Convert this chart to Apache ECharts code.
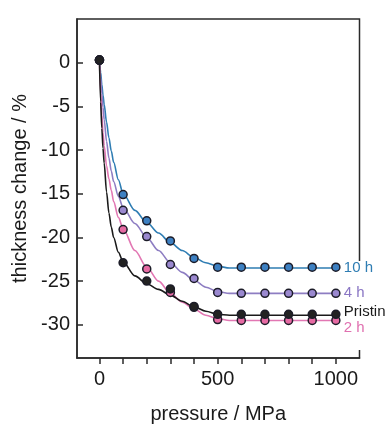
<!DOCTYPE html>
<html><head><meta charset="utf-8">
<script src="https://cdn.jsdelivr.net/npm/echarts@6/dist/echarts.min.js"></script>
<style>html,body{margin:0;padding:0;background:#fff}#c{width:385px;height:429px}</style>
</head><body><div id="c"></div>
<script>
// measured points
const pressure = [0, 100, 200, 300, 400, 500, 600, 700, 800, 900, 1000];
const h10 = [0.3, -15.1, -18.1, -20.4, -22.4, -23.4, -23.4, -23.4, -23.4, -23.4, -23.4];
const h4 = [0.3, -16.9, -19.9, -23.1, -24.7, -26.3, -26.4, -26.4, -26.4, -26.4, -26.4];
const h2 = [0.3, -19.1, -23.6, -26.3, -28.0, -29.4, -29.5, -29.5, -29.5, -29.5, -29.5];
const pristine = [0.3, -22.9, -25.0, -25.9, -27.9, -28.8, -28.8, -28.8, -28.8, -28.8, -28.8];
// fitted curves
const fitX = [0, 5, 10, 15, 20, 30, 40, 50, 60, 80, 100, 150, 200, 250, 300, 350, 400, 450, 500, 550, 600, 700, 800, 900, 1000];
const fit10 = [0.3, -1.1, -2.5, -3.7, -4.8, -6.8, -8.6, -10.1, -11.4, -13.4, -15.0, -16.9, -18.3, -19.5, -20.6, -21.5, -22.3, -22.9, -23.3, -23.5, -23.5, -23.5, -23.5, -23.5, -23.5];
const fit4 = [0.3, -1.7, -3.5, -5.1, -6.5, -9.0, -10.9, -12.4, -13.6, -15.3, -16.6, -18.4, -20.0, -21.5, -22.9, -24.0, -24.9, -25.7, -26.2, -26.4, -26.4, -26.4, -26.4, -26.4, -26.4];
const fit2 = [0.3, -3.5, -6.0, -8.0, -9.5, -11.8, -13.3, -14.6, -15.9, -17.7, -19.0, -21.5, -23.4, -25.0, -26.4, -27.4, -28.2, -28.9, -29.3, -29.5, -29.5, -29.5, -29.5, -29.5, -29.5];
const fitP = [0.3, -4.5, -7.5, -9.8, -11.5, -14.8, -17.2, -18.8, -20.0, -21.7, -22.8, -24.4, -25.3, -25.95, -26.6, -27.3, -27.95, -28.45, -28.8, -28.9, -28.9, -28.9, -28.9, -28.9, -28.9];
const seriesNames = ['10 h', '4 h', '2 h', 'Pristine'];
const xTicks = [0, 100, 200, 300, 400, 500, 600, 700, 800, 900, 1000];
const xLabels = [0, 500, 1000];
const yTicks = [0, -5, -10, -15, -20, -25, -30];

const FONT = 'Liberation Sans, Arial, sans-serif';
const defs = [
  {name: seriesNames[0], pts: h10, fit: fit10, line: '#2f7db3', fill: '#3d80c2', label: '#2f7db3', off: [0, 0]},
  {name: seriesNames[1], pts: h4, fit: fit4, line: '#8d7dc2', fill: '#9a88cf', label: '#8a76c4', off: [0, 0]},
  {name: seriesNames[2], pts: h2, fit: fit2, line: '#e277b3', fill: '#e66aa3', label: '#e070b0', off: [0, 7]},
  {name: seriesNames[3], pts: pristine, fit: fitP, line: '#1a1a1a', fill: '#222', label: '#1a1a1a', off: [0, -3]}
];
const series = [];
defs.forEach(d => {
  series.push({
    type: 'line', name: d.name + ' fit', data: fitX.map((x, i) => [x, d.fit[i]]),
    showSymbol: false, smooth: 0.3, smoothMonotone: 'x',
    lineStyle: {color: d.line, width: 1.6}, z: 2,
    endLabel: {show: true, formatter: d.name, color: d.label, fontSize: 15, fontFamily: FONT,
      distance: 8, offset: d.off}
  });
});
defs.forEach(d => {
  series.push({
    type: 'scatter', name: d.name, data: pressure.map((x, i) => [x, d.pts[i]]),
    symbolSize: 8, itemStyle: {color: d.fill, borderColor: '#1c1c28', borderWidth: 1.5, opacity: 1}, z: 3
  });
});

const chart = echarts.init(document.getElementById('c'), null, {renderer: 'canvas'});
chart.setOption({
  animation: false,
  backgroundColor: '#fff',
  grid: {left: 77, top: 19, width: 282.5, height: 349, show: true, borderColor: '#2a2a2a', borderWidth: 1.5, backgroundColor: 'transparent'},
  xAxis: {
    type: 'value', min: -95, max: 1100,
    name: 'pressure / MPa', nameLocation: 'middle', nameGap: 46,
    nameTextStyle: {fontSize: 20, color: '#1a1a1a', fontFamily: FONT},
    axisLine: {show: true, onZero: false, lineStyle: {color: '#2a2a2a', width: 1.5}},
    axisTick: {show: true, inside: false, length: 6, customValues: xTicks, lineStyle: {color: '#2a2a2a', width: 1.5}},
    axisLabel: {customValues: xLabels, fontSize: 20, color: '#1a1a1a', fontFamily: FONT, margin: 11, formatter: v => String(v)},
    splitLine: {show: false}
  },
  yAxis: {
    type: 'value', min: -33.8, max: 5,
    name: 'thickness change / %', nameLocation: 'middle', nameGap: 46, nameRotate: 90,
    nameTextStyle: {fontSize: 20, color: '#1a1a1a', fontFamily: FONT},
    axisLine: {show: true, onZero: false, lineStyle: {color: '#2a2a2a', width: 1.5}},
    axisTick: {show: true, inside: true, length: 6, customValues: yTicks, lineStyle: {color: '#2a2a2a', width: 1.5}},
    axisLabel: {customValues: yTicks, fontSize: 20, color: '#1a1a1a', fontFamily: FONT, margin: 7, formatter: v => String(v)},
    splitLine: {show: false}
  },
  graphic: [{type: 'rect', shape: {x: 354, y: 261, width: 12, height: 89}, style: {fill: '#fff'}, z: 1}],
  series: series
});
</script></body></html>
